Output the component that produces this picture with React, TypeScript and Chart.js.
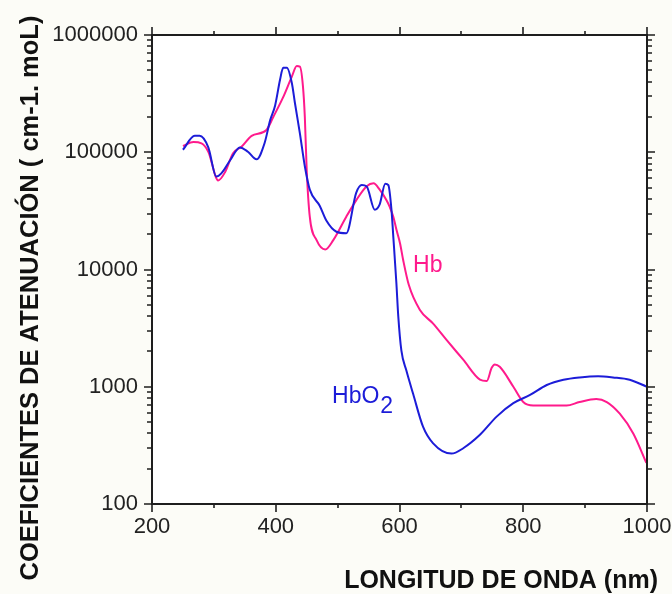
import React, { useEffect, useRef } from 'react';
import { Chart, registerables } from 'chart.js';

Chart.register(...registerables);

// HbO2 (blue) series: wavelength (nm) and attenuation coefficient
const hbO2Wavelengths = [
  250, 269, 277, 291, 304, 312, 326, 342, 355, 369, 382, 391, 399, 407, 412, 418,
  426, 431, 439, 447, 455, 471, 482, 498, 514, 530, 539, 547, 560, 568, 577, 582,
  587, 590, 595, 598, 603, 611, 622, 638, 654, 684, 703, 730, 757, 784, 811, 838,
  865, 891, 921, 945, 972, 1000,
];
const hbO2Values = [
  105000, 138000, 138000, 110000, 62000, 66000, 85000, 110000, 101000, 87000, 120000, 188000, 251000, 417000, 525000, 525000,
  389000, 263000, 145000, 76000, 48000, 35000, 26000, 21000, 20400, 45000, 52500, 51000, 32400, 36000, 54000, 52500,
  32400, 19000, 7600, 4000, 2040, 1380, 870, 457, 331, 269, 299, 389, 556, 724, 851, 1035,
  1148, 1202, 1230, 1202, 1148, 1000,
];

// Hb (pink) series
const hbWavelengths = [
  250, 267, 280, 291, 307, 318, 331, 345, 361, 385, 396, 412, 426, 434, 439, 444,
  447, 450, 455, 466, 480, 493, 514, 530, 547, 558, 568, 579, 584, 590, 595, 601,
  606, 615, 633, 654, 676, 703, 730, 741, 749, 754, 762, 784, 800, 816, 870, 891,
  918, 935, 956, 978, 999,
];
const hbValues = [
  113000, 122000, 119000, 101000, 57500, 67600, 98000, 112000, 138000, 155000, 200000, 295000, 442000, 543000, 537000, 363000,
  200000, 71000, 28200, 17800, 14800, 17800, 28200, 38900, 51300, 54300, 47900, 38900, 34300, 28200, 21900, 16600,
  12000, 7400, 4520, 3470, 2510, 1700, 1150, 1120, 1450, 1550, 1480, 1000, 741, 692, 692, 741,
  785, 741, 589, 398, 224,
];

const xTickValues = [200, 400, 600, 800, 1000];
const xMinorTickValues = [300, 500, 700, 900];
const yTickValues = [100, 1000, 10000, 100000, 1000000];
const yMinorMultipliers = [2, 3, 4, 5, 6, 7, 8, 9];

const seriesNames = ['HbO', 'Hb'];
const xTitle = 'LONGITUD DE ONDA (nm)';
const yTitle = 'COEFICIENTES DE ATENUACIÓN ( cm-1. moL)';

const BLUE = '#1c1cd8';
const PINK = '#ff1a8c';
const INK = '#1e1e1e';

// label anchors in data coordinates
const hbLabelAt = { x: 622, y: 9550 };
const hbO2LabelAt = { x: 491, y: 726 };

const framePlugin = {
  id: 'framePlugin',
  beforeDraw(chart: any) {
    const { ctx, chartArea: a, width, height } = chart;
    ctx.save();
    ctx.fillStyle = '#fcfcf7';
    ctx.fillRect(0, 0, width, height);
    ctx.fillStyle = '#ffffff';
    ctx.fillRect(a.left, a.top, a.right - a.left, a.bottom - a.top);
    ctx.restore();
  },
  afterDraw(chart: any) {
    const { ctx, chartArea: a } = chart;
    const xs = chart.scales.x;
    const ys = chart.scales.y;
    ctx.save();
    ctx.strokeStyle = INK;
    ctx.lineWidth = 2;
    ctx.strokeRect(a.left, a.top, a.right - a.left, a.bottom - a.top);

    ctx.beginPath();
    xTickValues.forEach((v) => {
      const px = Math.round(xs.getPixelForValue(v));
      ctx.moveTo(px, a.bottom);
      ctx.lineTo(px, a.bottom + 8);
      ctx.moveTo(px, a.top);
      ctx.lineTo(px, a.top - 8);
    });
    xMinorTickValues.forEach((v) => {
      const px = Math.round(xs.getPixelForValue(v));
      ctx.moveTo(px, a.bottom);
      ctx.lineTo(px, a.bottom + 4);
      ctx.moveTo(px, a.top);
      ctx.lineTo(px, a.top - 4);
    });
    yTickValues.forEach((d, i) => {
      const py = Math.round(ys.getPixelForValue(d));
      ctx.moveTo(a.left, py);
      ctx.lineTo(a.left - 8, py);
      ctx.moveTo(a.right, py);
      ctx.lineTo(a.right + 8, py);
      if (i < yTickValues.length - 1) {
        yMinorMultipliers.forEach((m) => {
          const pm = Math.round(ys.getPixelForValue(d * m));
          ctx.moveTo(a.left, pm);
          ctx.lineTo(a.left - 5, pm);
          ctx.moveTo(a.right, pm);
          ctx.lineTo(a.right + 5, pm);
        });
      }
    });
    ctx.lineWidth = 1.6;
    ctx.stroke();

    // axis titles
    ctx.fillStyle = '#111';
    ctx.font = 'bold 25px "Liberation Sans", Arial, sans-serif';
    ctx.textAlign = 'right';
    ctx.textBaseline = 'alphabetic';
    ctx.fillText(xTitle, 658, 588);

    ctx.save();
    ctx.translate(38, 298);
    ctx.rotate(-Math.PI / 2);
    ctx.textAlign = 'center';
    ctx.textBaseline = 'alphabetic';
    ctx.font = 'bold 25.5px "Liberation Sans", Arial, sans-serif';
    ctx.fillText(yTitle, 0, 0);
    ctx.restore();

    // series labels
    ctx.font = '23px "Liberation Sans", Arial, sans-serif';
    ctx.textAlign = 'left';
    ctx.fillStyle = PINK;
    ctx.fillText(seriesNames[1], xs.getPixelForValue(hbLabelAt.x), ys.getPixelForValue(hbLabelAt.y));
    ctx.fillStyle = BLUE;
    const hx = xs.getPixelForValue(hbO2LabelAt.x);
    const hy = ys.getPixelForValue(hbO2LabelAt.y);
    ctx.fillText(seriesNames[0], hx, hy);
    const w = ctx.measureText(seriesNames[0]).width;
    ctx.fillText('2', hx + w + 1, hy + 10);
    ctx.restore();
  },
};

export default function App() {
  const ref = useRef<HTMLCanvasElement | null>(null);

  useEffect(() => {
    if (!ref.current) return;
    const tickFont = { family: '"Liberation Sans", Arial, sans-serif', size: 22 };
    const chart = new Chart(ref.current, {
      type: 'line',
      data: {
        datasets: [
          {
            label: 'HbO2',
            data: hbO2Wavelengths.map((x, i) => ({ x, y: hbO2Values[i] })),
            borderColor: BLUE,
            borderWidth: 2,
            pointRadius: 0,
            cubicInterpolationMode: 'monotone',
            fill: false,
          },
          {
            label: 'Hb',
            data: hbWavelengths.map((x, i) => ({ x, y: hbValues[i] })),
            borderColor: PINK,
            borderWidth: 2,
            pointRadius: 0,
            cubicInterpolationMode: 'monotone',
            fill: false,
          },
        ],
      },
      options: {
        animation: false,
        responsive: false,
        devicePixelRatio: 1,
        layout: { padding: { left: 0, right: 25, top: 35, bottom: 0 } },
        plugins: { legend: { display: false }, tooltip: { enabled: false } },
        scales: {
          x: {
            type: 'linear',
            min: 200,
            max: 1000,
            grid: { display: false },
            border: { display: false },
            ticks: {
              font: tickFont,
              color: '#222',
              padding: 2,
              maxRotation: 0,
              callback: (v: any) => String(v),
            },
            afterBuildTicks: (s: any) => {
              s.ticks = xTickValues.map((v) => ({ value: v }));
            },
            afterFit: (s: any) => {
              s.height = 90;
              s.paddingLeft = 0;
              s.paddingRight = 0;
            },
          },
          y: {
            type: 'logarithmic',
            min: 100,
            max: 1000000,
            grid: { display: false },
            border: { display: false },
            ticks: {
              font: tickFont,
              color: '#222',
              padding: 6,
              callback: (v: any) => String(v),
            },
            afterBuildTicks: (s: any) => {
              s.ticks = yTickValues.map((v) => ({ value: v }));
            },
            afterFit: (s: any) => {
              s.width = 152;
              s.paddingTop = 0;
              s.paddingBottom = 0;
            },
          },
        },
      },
      plugins: [framePlugin],
    });
    return () => chart.destroy();
  }, []);

  return (
    <div style={{ position: 'fixed', left: 0, top: 0, width: 672, height: 594 }}>
      <canvas ref={ref} width={672} height={594} style={{ display: 'block' }} />
    </div>
  );
}
